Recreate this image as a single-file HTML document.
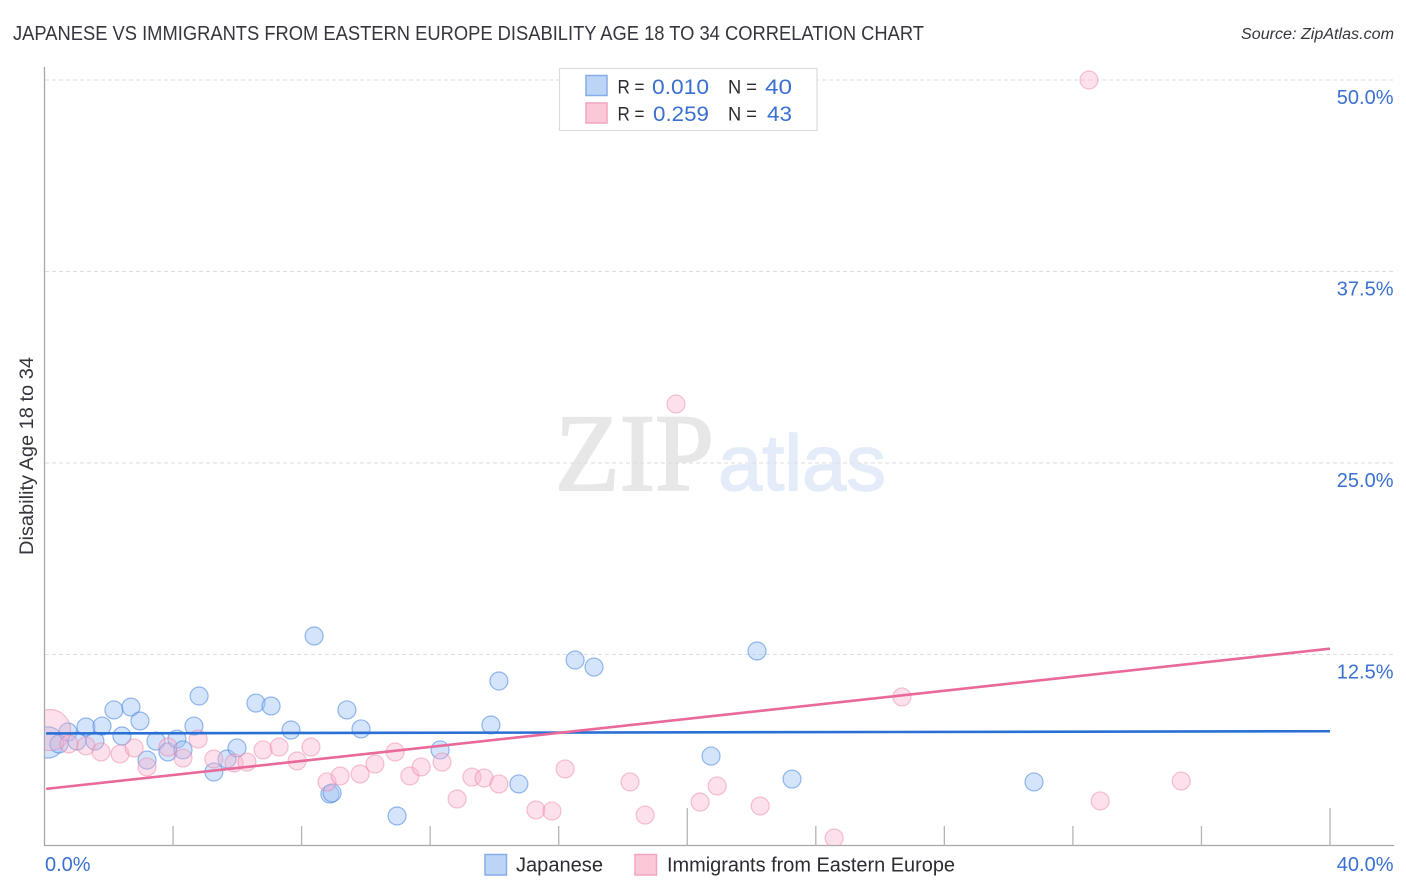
<!DOCTYPE html>
<html>
<head>
<meta charset="utf-8">
<title>Japanese vs Immigrants from Eastern Europe Disability Age 18 to 34 Correlation Chart</title>
<style>
html,body{margin:0;padding:0;background:#fff;}
svg{display:block;font-family:"Liberation Sans",sans-serif;}
</style>
</head>
<body>
<svg id="chart" width="1406" height="892" viewBox="0 0 1406 892" xmlns="http://www.w3.org/2000/svg">
  <defs>
    <clipPath id="plot-clip"><rect x="45" y="60" width="1349" height="785"/></clipPath>
  </defs>
  <rect x="0" y="0" width="1406" height="892" fill="#ffffff"/>

  <text x="13" y="40" font-size="20" fill="#35353d" textLength="911" lengthAdjust="spacingAndGlyphs">JAPANESE VS IMMIGRANTS FROM EASTERN EUROPE DISABILITY AGE 18 TO 34 CORRELATION CHART</text>
  <text x="1241" y="39" font-size="15.5" font-style="italic" fill="#35353d" textLength="153" lengthAdjust="spacingAndGlyphs">Source: ZipAtlas.com</text>

  <g>
    <text x="555" y="490" font-family="'Liberation Serif',serif" font-size="110" fill="#e7e7e7" stroke="#e7e7e7" stroke-width="2" textLength="159" lengthAdjust="spacingAndGlyphs">ZIP</text>
    <text x="718" y="490" font-size="79" fill="#e4ecfa" stroke="#e4ecfa" stroke-width="1.5" textLength="168" lengthAdjust="spacingAndGlyphs">atlas</text>
  </g>

  <g id="grid"></g>
  <g id="axes"></g>
  <g id="points" clip-path="url(#plot-clip)"></g>
  <g id="trends"></g>
  <g id="labels"></g>

  <text transform="translate(33 555) rotate(-90)" font-size="19" fill="#35353d" textLength="198" lengthAdjust="spacingAndGlyphs">Disability Age 18 to 34</text>

  <g>
    <rect x="559.5" y="68.5" width="257.5" height="62" fill="#ffffff" stroke="#dcdcdc" stroke-width="1.2"/>
    <rect x="586" y="75.5" width="21" height="20" fill="#bcd5f7" stroke="#86ade6" stroke-width="1.5"/>
    <rect x="586" y="103" width="21" height="20" fill="#fbc8d8" stroke="#f2a5bf" stroke-width="1.5"/>
    <text x="617.5" y="93.5" font-size="19" fill="#2b2b33" textLength="27" lengthAdjust="spacingAndGlyphs">R =</text>
    <text x="652" y="94" font-size="21.5" fill="#3a70d0" textLength="57" lengthAdjust="spacingAndGlyphs">0.010</text>
    <text x="728" y="93.5" font-size="19" fill="#2b2b33" textLength="29" lengthAdjust="spacingAndGlyphs">N =</text>
    <text x="765" y="94" font-size="21.5" fill="#3a70d0" textLength="27" lengthAdjust="spacingAndGlyphs">40</text>
    <text x="617.5" y="120.5" font-size="19" fill="#2b2b33" textLength="27" lengthAdjust="spacingAndGlyphs">R =</text>
    <text x="653" y="121" font-size="21.5" fill="#3a70d0" textLength="56" lengthAdjust="spacingAndGlyphs">0.259</text>
    <text x="728" y="120.5" font-size="19" fill="#2b2b33" textLength="29" lengthAdjust="spacingAndGlyphs">N =</text>
    <text x="767" y="121" font-size="21.5" fill="#3a70d0" textLength="25" lengthAdjust="spacingAndGlyphs">43</text>
  </g>

  <g>
    <rect x="485" y="854.5" width="21.5" height="20.5" fill="#bcd5f7" stroke="#86ade6" stroke-width="1.5"/>
    <text x="516" y="871.5" font-size="20" fill="#2b2b33" textLength="87" lengthAdjust="spacingAndGlyphs">Japanese</text>
    <rect x="635" y="854.5" width="21.5" height="20.5" fill="#fbc8d8" stroke="#f2a5bf" stroke-width="1.5"/>
    <text x="667" y="871.5" font-size="20" fill="#2b2b33" textLength="288" lengthAdjust="spacingAndGlyphs">Immigrants from Eastern Europe</text>
  </g>
</svg>

<script>
const yTickValues = [50, 37.5, 25, 12.5];
const yTickLabels = ["50.0%", "37.5%", "25.0%", "12.5%"];
const xTickValues = [4, 8, 12, 16, 20, 24, 28, 32, 36, 40];
const xMajorTicks = [20, 40];
const xEndLabels = ["0.0%", "40.0%"];

const japaneseX = [0.11,0.45,0.73,1.01,1.29,1.57,1.79,2.16,2.41,2.69,2.97,3.47,3.84,3.19,4.12,4.31,4.65,4.81,5.27,5.68,5.99,6.58,7.05,7.67,8.39,8.88,8.95,9.41,9.85,10.97,12.31,13.89,14.14,14.76,16.51,17.10,20.74,22.17,23.26,30.79];
const japaneseY = [6.76,6.66,7.44,6.85,7.77,6.85,7.83,8.88,7.18,9.07,8.16,6.85,6.14,5.61,6.98,6.27,7.83,9.79,4.83,5.68,6.40,9.33,9.14,7.57,13.71,3.39,3.46,8.88,7.64,1.96,6.27,7.90,10.77,4.05,12.14,11.68,5.87,12.73,4.37,4.18];
const japaneseWeight = [3];

const immigrantsX = [0.17,0.76,1.29,1.76,2.35,2.79,3.19,3.84,4.31,4.78,5.27,5.90,6.30,6.80,7.30,7.86,8.29,8.79,9.20,9.82,10.28,10.91,11.37,11.72,12.37,12.84,13.30,13.68,14.14,15.29,15.79,16.20,18.22,18.69,19.65,20.40,20.93,22.27,24.57,26.68,32.50,32.85,35.37];
const immigrantsY = [7.57,6.66,6.53,6.14,6.01,6.40,5.16,6.46,5.74,6.98,5.68,5.42,5.48,6.27,6.46,5.55,6.46,4.18,4.57,4.70,5.35,6.14,4.57,5.16,5.48,3.07,4.50,4.44,4.05,2.35,2.28,5.03,4.18,2.02,28.85,2.87,3.92,2.61,0.52,9.73,50.00,2.94,4.24];
const immigrantsWeight = [5.2];

const trendX = [0.05, 40];
const japaneseTrend = [7.35, 7.49];
const immigrantsTrend = [3.73, 12.88];

const SVGNS = "http://www.w3.org/2000/svg";
function xScale(v) { return 44.5 + v * 32.1375; }
function yScale(v) { return 846 - v * 15.32; }
function make(tag, attrs, parent) {
  const el = document.createElementNS(SVGNS, tag);
  for (const k in attrs) el.setAttribute(k, attrs[k]);
  parent.appendChild(el);
  return el;
}

const grid = document.getElementById("grid");
const axes = document.getElementById("axes");
const points = document.getElementById("points");
const trends = document.getElementById("trends");
const labels = document.getElementById("labels");

yTickValues.forEach(function (v, i) {
  const line = make("line", {x1: 45, x2: 1393, y1: yScale(v), y2: yScale(v), stroke: "#dedede", "stroke-width": 1, "stroke-dasharray": "4 3"}, grid);
  
  
  const t = make("text", {x: 1393.5, y: yScale(v) + 24, "text-anchor": "end", "font-size": 20, fill: "#3a70d0"}, labels);
  
  
  t.textContent = yTickLabels[i];
});

const yAxis = make("line", {x1: 44.5, x2: 44.5, y1: 67, y2: 846, stroke: "#a8a8a8", "stroke-width": 1.3}, axes);


const xAxis = make("line", {x1: 44, x2: 1394, y1: 845.5, y2: 845.5, stroke: "#a8a8a8", "stroke-width": 1.3}, axes);



xTickValues.forEach(function (v) {
  const major = xMajorTicks.indexOf(v) >= 0;
  const tick = make("line", {x1: xScale(v), x2: xScale(v), y1: major ? 808 : 826, y2: 846, stroke: "#b4b4b4", "stroke-width": 1.3}, axes);
  
  
});

const xLabelStart = make("text", {x: 45, y: 871, "font-size": 20, fill: "#3a70d0"}, labels);


xLabelStart.textContent = xEndLabels[0];
const xLabelEnd = make("text", {x: 1393.5, y: 871, "text-anchor": "end", "font-size": 20, fill: "#3a70d0"}, labels);


xLabelEnd.textContent = xEndLabels[1];

japaneseX.forEach(function (v, i) {
  const r = 9 * Math.sqrt(japaneseWeight[i] || 1);
  const c = make("circle", {cx: xScale(v), cy: yScale(japaneseY[i]), r: r, fill: "rgba(160,196,244,0.45)", stroke: "rgba(60,125,220,0.52)", "stroke-width": 1.2}, points);
  
  
});

immigrantsX.forEach(function (v, i) {
  const r = 9 * Math.sqrt(immigrantsWeight[i] || 1);
  const c = make("circle", {cx: xScale(v), cy: yScale(immigrantsY[i]), r: r, fill: "rgba(248,178,204,0.4)", stroke: "rgba(234,125,162,0.45)", "stroke-width": 1.2}, points);
  
  
});

const blueLine = make("line", {x1: xScale(trendX[0]), x2: xScale(trendX[1]), y1: yScale(japaneseTrend[0]), y2: yScale(japaneseTrend[1]), stroke: "#2a6fd4", "stroke-width": 2.6}, trends);


const pinkLine = make("line", {x1: xScale(trendX[0]), x2: xScale(trendX[1]), y1: yScale(immigrantsTrend[0]), y2: yScale(immigrantsTrend[1]), stroke: "#e8699a", "stroke-width": 2.6}, trends);


</script>
</body>
</html>
